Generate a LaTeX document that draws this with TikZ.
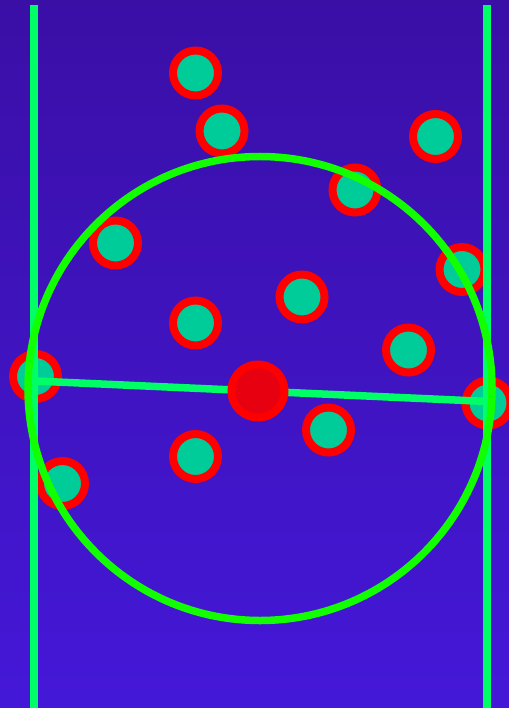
\documentclass[tikz,border=0pt]{standalone}
\begin{document}
\begin{tikzpicture}[x=1pt,y=-1pt,
  dot/.style={circle,draw=red,line width=8pt,fill=teal0,minimum size=45pt,inner sep=0pt},
  hub/.style={circle,fill=red,minimum size=61pt,inner sep=0pt},
  hubin/.style={circle,fill=hubred,minimum size=45pt,inner sep=0pt},
  rail/.style={draw=rail0,line width=7.5pt},
  ring/.style={draw=ring0,line width=7.5pt}]
\definecolor{teal0}{HTML}{00CC99}
\definecolor{rail0}{HTML}{00FF66}
\definecolor{ring0}{HTML}{11FF00}
\definecolor{hubred}{HTML}{E60010}
\definecolor{bgtop}{HTML}{3A0FA6}
\definecolor{bgbot}{HTML}{4418D8}
\useasboundingbox (0,0) rectangle (508,708);
\shade[top color=bgtop,bottom color=bgbot] (-2,-2) rectangle (510,710);
% players
\node[dot] (p1) at (195.5,73) {};
\node[dot] (p2) at (222,131) {};
\node[dot] (p3) at (435.5,136.5) {};
\node[dot] (p4) at (355,190) {};
\node[dot] (p5) at (115.5,243) {};
\node[dot] (p6) at (462,269.5) {};
\node[dot] (p7) at (302,297) {};
\node[dot] (p8) at (195.5,323) {};
\node[dot] (p9) at (408.5,350) {};
\node[dot] (p10) at (35.5,376.5) {};
\node[dot] (p11) at (488,403) {};
\node[dot] (p12) at (328.5,430) {};
\node[dot] (p13) at (195.5,456.5) {};
\node[dot] (p14) at (62.5,483.5) {};
% rails
\coordinate (lt) at (34,5);
\coordinate (lb) at (34,712);
\coordinate (rt) at (487,5);
\coordinate (rb) at (487,712);
\draw[rail] (lt) -- (lb);
\draw[rail] (rt) -- (rb);
\coordinate (ha) at (35,381);
\coordinate (hb) at (488,401.5);
\draw[rail] (ha) -- (hb);
% big circle
\coordinate (cc) at (260,388.5);
\draw[ring] (cc) circle[radius=232];
% hub
\node[hub] (hub) at (258,391) {};
\node[hubin] (hubi) at (hub) {};
\end{tikzpicture}
\end{document}
